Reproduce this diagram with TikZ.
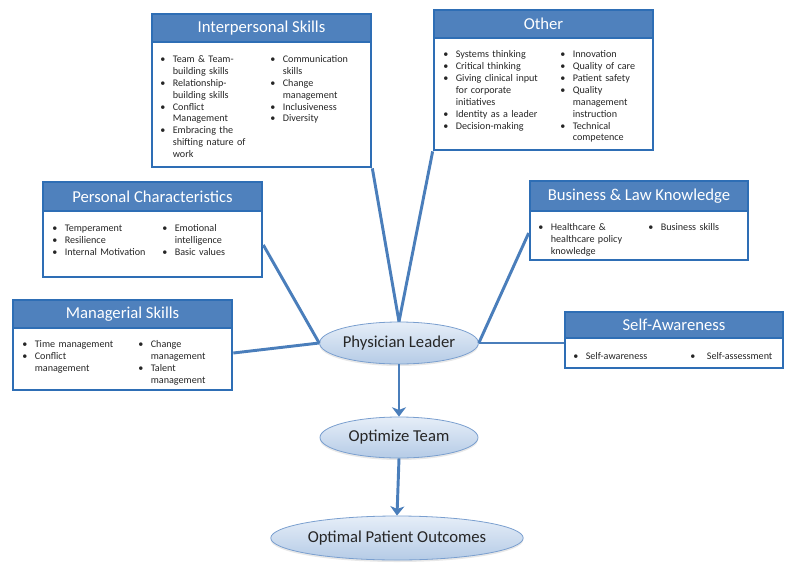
\documentclass[tikz,border=0pt]{standalone}
\usepackage{fontspec}
\setmainfont{Carlito}
\usetikzlibrary{shapes.geometric,arrows.meta,shadows}
\definecolor{hdr}{HTML}{4F81BD}
\definecolor{bord}{HTML}{2E6EB5}
\definecolor{connc}{HTML}{4A7EBB}
\definecolor{ellA}{HTML}{E6EEF8}
\definecolor{ellB}{HTML}{B5CBE6}
\definecolor{ellbord}{HTML}{7A9FCF}
\definecolor{txt}{HTML}{262626}
\setlength\parskip{0pt}
\newlength\bhang
\setlength\bhang{9.4pt}
\newcommand\bitem[1]{\lineskiplimit=0pt\lineskip=0pt\par\parskip=0pt\noindent\hbox to\bhang{\strut\textbullet\hfil}\parbox[t]{80pt}{\raggedright\strut#1\strut}\par}
\newcommand\nl{\hfil\break}
\begin{document}
\begin{tikzpicture}[x=0.75pt,y=-0.75pt,
  bodybox/.style={draw=bord,line width=2pt,fill=white,inner sep=0pt},
  hdrbox/.style={draw=bord,line width=2pt,fill=hdr,inner sep=0pt,anchor=north,text=white,font=\fontsize{12.5}{15}\selectfont},
  colbox/.style={anchor=north west,inner sep=0pt,text width=#1,text=txt,font=\fontsize{7.6}{8.9}\selectfont},
  ellnode/.style={ellipse,draw=ellbord,line width=0.6pt,top color=ellA,bottom color=ellB,inner sep=0pt,text=txt,font=\fontsize{12.5}{15}\selectfont,drop shadow={opacity=0.18,shadow xshift=0pt,shadow yshift=-1.5pt}},
  connline/.style={draw=connc,line width=2.2pt},
  arrline/.style={draw=connc,line width=2.2pt,-{Stealth[length=7pt,width=10.5pt,inset=2pt]}}]
\useasboundingbox (0,0) rectangle (800,575);

% Interpersonal Skills
\node[bodybox,minimum width=164.25pt,minimum height=114.75pt] (interp) at (261.5,90.5) {};
\node[hdrbox,minimum width=164.25pt,minimum height=21pt] (interpH) at (interp.north) {Interpersonal Skills};
\node[colbox=90pt] (interpA) at (160,50.5) {
  \bitem{Team \& Team-\nl building skills}
  \bitem{Relationship-\nl building skills}
  \bitem{Conflict\nl Management}
  \bitem{Embracing the\nl shifting nature of\nl work}};
\node[colbox=90pt] (interpB) at (270,50.5) {
  \bitem{Communication\nl skills}
  \bitem{Change\nl management}
  \bitem{Inclusiveness}
  \bitem{Diversity}};

% Other
\node[bodybox,minimum width=164.25pt,minimum height=105pt] (other) at (543.5,80) {};
\node[hdrbox,minimum width=164.25pt,minimum height=21pt] (otherH) at (other.north) {Other};
\node[colbox=90pt] (otherA) at (443,45.7) {
  \bitem{Systems thinking}
  \bitem{Critical thinking}
  \bitem{Giving clinical input\nl for corporate\nl initiatives}
  \bitem{Identity as a leader}
  \bitem{Decision-making}};
\node[colbox=90pt] (otherB) at (560,45.7) {
  \bitem{Innovation}
  \bitem{Quality of care}
  \bitem{Patient safety}
  \bitem{Quality\nl management\nl instruction}
  \bitem{Technical\nl competence}};

% Personal Characteristics
\node[bodybox,minimum width=164.25pt,minimum height=71.25pt] (pers) at (152.5,229.5) {};
\node[hdrbox,minimum width=164.25pt,minimum height=21.75pt] (persH) at (pers.north) {Personal Characteristics};
\node[colbox=90pt] (persA) at (52,219.5) {
  \bitem{Temperament}
  \bitem{Resilience}
  \bitem{Internal Motivation}};
\node[colbox=90pt] (persB) at (162,219.5) {
  \bitem{Emotional\nl intelligence}
  \bitem{Basic values}};

% Business & Law Knowledge
\node[bodybox,minimum width=163.5pt,minimum height=59.25pt] (bus) at (639,220.5) {};
\node[hdrbox,minimum width=163.5pt,minimum height=22.5pt] (busH) at (bus.north) {Business \& Law Knowledge};
\node[colbox=90pt] (busA) at (538,218.7) {
  \bitem{Healthcare \&\nl healthcare policy\nl knowledge}};
\node[colbox=90pt] (busB) at (648,218.7) {
  \bitem{Business skills}};

% Managerial Skills
\node[bodybox,minimum width=164.25pt,minimum height=67.5pt] (man) at (122.5,345) {};
\node[hdrbox,minimum width=164.25pt,minimum height=21pt] (manH) at (man.north) {Managerial Skills};
\node[colbox=90pt] (manA) at (22,335.7) {
  \bitem{Time management}
  \bitem{Conflict\nl management}};
\node[colbox=90pt] (manB) at (138,335.7) {
  \bitem{Change\nl management}
  \bitem{Talent\nl management}};

% Self-Awareness
\node[bodybox,minimum width=163.5pt,minimum height=42pt] (self) at (674,340) {};
\node[hdrbox,minimum width=163.5pt,minimum height=19.5pt] (selfH) at (self.north) {Self-Awareness};
\node[colbox=90pt] (selfA) at (573,347.7) {
  \bitem{Self-awareness}};
\node[colbox=90pt] (selfB) at (690,347.7) {\setlength\bhang{12.5pt}%
  \bitem{Self-assessment}};

% Central ellipses
\node[ellnode,minimum width=118.5pt,minimum height=31.5pt] (pl) at (399,343) {Physician Leader};
\node[ellnode,minimum width=118.5pt,minimum height=30.75pt] (opt) at (399,437.5) {Optimize Team};
\node[ellnode,minimum width=159.75pt,minimum height=33pt] (out) at (397,538) {Optimal Patient Outcomes};

% Connectors
\draw[connline] (interp.south east) -- (pl.north);
\draw[connline] (other.south west) -- (pl.north);
\draw[connline] ([yshift=-11.6pt]pers.east) -- (pl.west);
\draw[connline] ([yshift=-6pt]man.east) -- (pl.west);
\draw[connline] ([yshift=-9.4pt]bus.west) -- (pl.east);
\draw[connline] ([yshift=-2.25pt]self.west) -- (pl.east);
\draw[arrline] (pl.south) -- (opt.north);
\draw[arrline] (opt.south) -- (out.north);
\end{tikzpicture}
\end{document}
